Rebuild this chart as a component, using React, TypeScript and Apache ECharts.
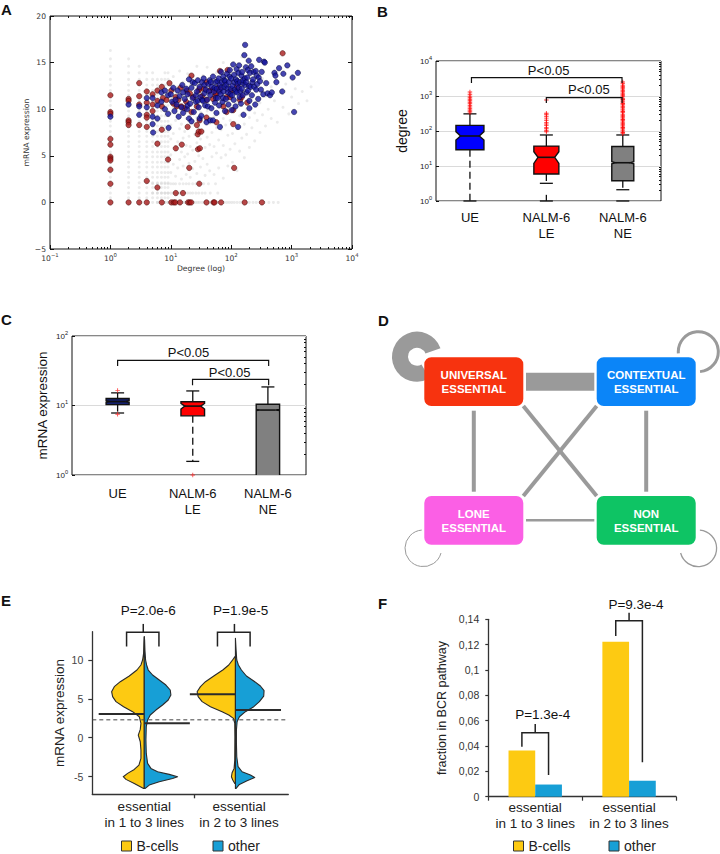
import React, { useEffect, useRef } from 'react';
import * as echarts from 'echarts';

const SANS = '"Liberation Sans", Arial, Helvetica, sans-serif';
const DEJAVU = '"DejaVu Sans", sans-serif';
const YELLOW = '#fdca12';
const CYAN = '#179fd6';

// ---------------- Panel A : degree vs mRNA expression ----------------
const aStripeDegrees = [1, 2, 3, 4, 5, 6, 7, 8, 9];
const aStripeTops = [16.3, 15.6, 14.7, 14.3, 14.0, 13.6, 13.5, 14.0, 14.0];
const aStripeLevels = [0, 0.5, 1, 1.6, 2.1, 2.7, 3.2, 3.8, 4.3, 4.9, 5.4, 6, 6.5, 7.1, 7.6, 8.2, 8.7, 9.3, 9.8, 10.4, 10.9, 11.5, 12, 12.6, 13.2, 13.9, 14.6, 15.4, 16.3];
const aGrayRows: [number, number[]][] = [
  [0, [6, 7, 8, 9, 10, 11, 12, 13, 14, 15, 16, 17, 18, 19, 20, 22, 24, 26, 28, 30, 33, 36, 40, 44, 48, 53, 58, 64, 70, 77, 85, 93, 102, 112, 125, 140, 160, 180, 200, 230, 260, 300, 350, 420, 500, 600]],
  [1.0, [5, 6, 7, 8, 9, 10, 11, 12, 13, 14, 15, 17, 19, 21, 23, 26, 29, 33, 37, 45, 60]],
  [2.0, [5, 6, 7, 8, 9, 10, 11, 12, 14, 16, 18, 20, 23, 26, 30, 35, 42, 55]],
];
const aGrayCloud: [number, number][] = [
  [10, 3.2], [10, 5.1], [10, 6.8], [10, 8.3], [10, 9.6], [10, 11.2], [10, 12.7], [11, 4.1], [11, 7.4], [11, 10.1], [11, 13.5],
  [12, 2.8], [12, 5.9], [12, 8.8], [12, 11.9], [13, 3.7], [13, 6.5], [13, 9.3], [13, 12.4], [14, 4.6], [14, 7.9], [14, 10.6], [14, 14.1],
  [15, 2.5], [15, 5.4], [15, 8.4], [15, 11.5], [16, 3.9], [16, 6.9], [16, 9.9], [16, 12.9], [17, 4.9], [17, 7.6], [17, 10.8],
  [18, 3.0], [18, 6.1], [18, 9.0], [18, 12.0], [19, 5.2], [19, 8.0], [19, 13.8], [20, 4.2], [20, 7.1], [20, 10.3],
  [21, 2.7], [21, 6.0], [21, 9.4], [21, 12.6], [23, 3.6], [23, 5.6], [23, 8.6], [23, 11.4], [25, 4.4], [25, 7.3], [25, 10.0], [25, 13.0],
  [27, 3.1], [27, 6.4], [27, 9.1], [27, 14.6], [29, 5.0], [29, 8.1], [29, 11.0], [31, 3.8], [31, 6.8], [31, 9.7], [31, 12.3],
  [34, 4.7], [34, 7.7], [34, 10.5], [34, 13.6], [37, 2.9], [37, 5.9], [37, 8.9], [37, 11.8], [40, 4.1], [40, 7.0], [40, 9.8], [40, 14.5],
  [44, 3.4], [44, 6.2], [44, 8.5], [44, 11.1], [44, 12.9], [48, 4.9], [48, 7.5], [48, 10.2], [52, 3.0], [52, 6.0], [52, 9.2], [52, 12.0],
  [57, 5.3], [57, 8.0], [57, 10.9], [57, 13.9], [62, 3.7], [62, 6.7], [62, 9.5], [62, 12.5], [68, 4.8], [68, 7.8], [68, 10.6],
  [74, 2.6], [74, 6.1], [74, 9.0], [74, 11.7], [74, 15.0], [81, 5.1], [81, 8.3], [81, 12.8], [88, 3.9], [88, 7.2], [88, 10.1],
  [96, 5.7], [96, 8.8], [96, 11.4], [96, 14.0], [105, 4.3], [105, 7.4], [105, 9.9], [115, 6.3], [115, 8.6], [115, 12.2],
  [125, 3.4], [125, 7.9], [125, 10.8], [138, 5.5], [138, 9.3], [138, 13.2], [150, 6.9], [150, 10.4], [150, 15.6],
  [165, 4.8], [165, 8.4], [165, 11.9], [180, 7.3], [180, 10.0], [200, 5.9], [200, 9.1], [200, 12.6], [220, 8.0], [220, 11.2], [220, 14.8],
  [245, 6.6], [245, 9.6], [270, 8.8], [270, 12.1], [300, 7.5], [300, 10.7], [330, 9.4], [330, 13.3], [370, 8.2], [370, 11.4],
  [410, 10.0], [460, 9.0], [460, 12.4], [520, 10.9], [580, 8.6], [650, 11.8], [720, 10.2], [800, 12.7], [900, 9.5], [1000, 11.3],
  [1150, 12.2], [1300, 10.6], [1500, 11.9], [1800, 10.9], [2100, 12.4],
];
const aRed: [number, number][] = [
  [1, 11.5], [1, 9.7], [1, 9.5], [1, 6.8], [1, 6.2], [1, 4.9], [1, 4.7], [1, 4.5], [1, 3.5], [1, 2.0], [1, 0],
  [2, 11.1], [2, 10.9], [2, 8.8], [2, 8.6], [2, 8.3], [2, 0],
  [3, 12.8], [3, 11.4], [3, 10.5], [3, 8.3], [3, 0],
  [4, 11.9], [4, 10.7], [4, 9.4], [4, 9.1], [4, 8.1], [4, 2.3], [4, 0],
  [5, 11.6], [5, 10.5], [5, 9.8], [6, 12.0], [6, 10.9], [6, 6.3], [6, 1.6],
  [7.1, 12.4], [7.1, 10.3], [7.1, 7.8], [7.1, 0], [7.4, 11.2], [8.5, 11.0], [9, 4.6], [9.5, 12.8],
  [10.2, 12.0], [10.2, 0], [11, 10.6], [11.2, 0], [11.9, 0], [12, 11.3], [12.1, 5.8], [12.1, 1.0], [12.5, 10.3], [13.3, 11.0],
  [14.2, 0], [14.5, 12.3], [15, 10.3], [15.2, 6.2], [15.9, 1.0], [17, 10.1], [18, 10.8], [18.3, 12.0], [19, 8.1], [19.3, 0],
  [20.2, 3.7], [20.5, 0], [20.7, 11.7], [21.8, 0], [22, 13.6], [22, 9.7], [23.6, 11.3], [27, 10.3], [27, 8.3], [27.9, 7.3],
  [28.2, 5.7], [29, 12.0], [29, 7.6], [29.6, 2.0], [30, 12.2], [30, 8.8], [30.3, 5.8], [32, 7.6], [33, 11.4], [35.5, 12.2],
  [39, 12.9], [39, 11.0], [39, 9.1], [39, 0], [44, 12.0], [50, 11.1], [50, 12.1], [51, 0], [53, 0], [55, 11.5], [56, 11.7],
  [57, 8.6], [61, 12.3], [65, 14.1], [65, 12.1], [68, 0], [74, 10.3], [84, 11.3], [84, 9.7], [87, 14.2], [96, 11.3], [98, 11.9],
  [108, 9.9], [108, 8.4], [112, 3.7], [125, 12.4], [140, 11.0], [150, 11.3], [167, 0], [184, 10.7], [323, 0], [710, 16.0],
];
const aBlue: [number, number][] = [
  [1, 9.2], [2, 10.5], [3, 9.4], [3, 10.3], [4, 10.2], [4, 11.2], [5, 11.2], [5, 9.2], [5, 8.4], [5.1, 7.5], [6, 9.0], [6, 10.4],
  [7, 11.8], [7, 10.8], [8, 10.0], [8, 12.0], [9, 11.5], [9, 9.5], [9.2, 8.0],
  [10, 11.6], [10.5, 10.8], [11, 12.3], [11.5, 9.8], [12, 11.0], [12.5, 10.5], [13, 12.0], [13.5, 9.2], [14, 11.4], [15, 10.2],
  [15.5, 12.6], [16, 9.6], [16, 11.8], [17, 11.1], [18, 12.2], [18.5, 10.0], [19, 11.6], [19, 10.4], [20, 13.2], [20, 9.0],
  [21, 10.6], [22, 12.3], [22, 8.7], [23, 11.2], [23, 12.9], [24, 9.7], [25, 12.8], [26, 10.8], [26, 11.5], [27, 11.9], [28, 13.1],
  [28, 10.9], [29, 10.2], [30, 12.4], [30, 9.0], [31, 11.3], [32, 9.3], [33, 12.9], [33, 11.0], [34, 10.9], [35, 13.3], [36, 11.7],
  [36, 12.6], [37, 10.4], [38, 12.1], [39, 8.6], [40, 11.0], [41, 10.3], [42, 12.7], [43, 11.9], [44, 13.1], [45, 11.5], [45, 8.8],
  [46, 12.9], [47, 10.1], [48, 12.4], [50, 13.5], [50, 8.8], [52, 11.9], [53, 12.3], [54, 10.7], [55, 12.9], [56, 11.2], [57, 9.6],
  [58, 12.2], [59, 13.0], [60, 11.2], [62, 13.3], [63, 10.4], [64, 11.9], [65, 12.6], [65, 8.1], [67, 11.6], [68, 14.0], [69, 12.3],
  [70, 12.9], [72, 10.8], [73, 11.2], [74, 13.5], [75, 11.9], [77, 13.1], [78, 12.4], [79, 9.8], [80, 13.0], [82, 11.1], [83, 12.6],
  [85, 13.8], [87, 12.2], [89, 11.8], [90, 10.5], [92, 12.9], [94, 13.5], [95, 14.2], [97, 11.6], [99, 12.2], [100, 13.3], [102, 9.9],
  [104, 11.5], [105, 12.5], [108, 14.8], [110, 11.0], [112, 13.7], [113, 12.9], [115, 12.1], [118, 10.3], [119, 11.9], [120, 13.2],
  [123, 14.3], [125, 11.8], [126, 13.0], [128, 12.7], [130, 8.1], [132, 13.9], [134, 12.3], [135, 14.7], [138, 11.3], [140, 12.9],
  [143, 11.9], [145, 10.6], [148, 13.6], [150, 12.2], [152, 14.0], [155, 11.5], [157, 12.8], [158, 13.1], [160, 9.4], [165, 15.8],
  [168, 13.3], [170, 16.9], [172, 12.6], [175, 14.5], [178, 12.9], [180, 11.8], [185, 13.4], [188, 14.2], [190, 12.0], [195, 15.2],
  [198, 12.5], [200, 10.9], [200, 10.1], [205, 13.9], [210, 12.4], [215, 14.6], [220, 11.5], [225, 12.9], [230, 13.2], [235, 14.0],
  [240, 12.4], [250, 10.5], [255, 14.1], [260, 12.1], [265, 13.6], [270, 12.7], [280, 11.1], [285, 13.4], [290, 15.3], [300, 13.0],
  [310, 12.1], [320, 14.0], [340, 11.6], [350, 15.1], [360, 15.0], [380, 12.8], [400, 11.7], [440, 11.5], [470, 11.8], [520, 13.9],
  [540, 13.6], [560, 12.9], [620, 14.4], [700, 11.9], [730, 13.8], [850, 14.7], [1040, 13.4], [1100, 9.7], [1270, 13.9],
];
const aMinorTicks = [0.2, 0.3, 0.4, 0.5, 0.6, 0.7, 0.8, 0.9, 2, 3, 4, 5, 6, 7, 8, 9, 20, 30, 40, 50, 60, 70, 80, 90,
  200, 300, 400, 500, 600, 700, 800, 900, 2000, 3000, 4000, 5000, 6000, 7000, 8000, 9000];

// ---------------- Panel B : degree boxplots ----------------
const bCategories = ['UE', 'NALM-6\nLE', 'NALM-6\nNE'];
const bLow = [1, 3.2, 2.1];
const bQ1 = [29, 5.9, 3.8];
const bMedian = [72, 17.7, 12.4];
const bQ3 = [145, 37, 36];
const bHigh = [309, 77, 77];
const bNotchLow = [55, 11.9, 11.6];
const bNotchHigh = [96, 25.5, 13.3];
const bFloorTail: (number | null)[] = [null, 1.5, 1];
const bOutliers: number[][] = [
  [330, 365, 400, 445, 490, 540, 600, 660, 730, 810, 890, 990, 1120, 1300],
  [95, 104, 116, 127, 142, 158, 176, 198, 222, 255, 290, 320, 770],
  [84, 91, 99, 107, 117, 126, 139, 151, 166, 180, 198, 214, 236, 255, 281, 303, 335, 362, 398, 430, 474, 512, 563, 608, 668, 722,
    795, 858, 945, 1020, 1125, 1215, 1335, 1445, 1590, 1720, 1895, 2050, 2260, 2500],
];
const bMinorTicks = [2, 3, 4, 5, 6, 7, 8, 9, 20, 30, 40, 50, 60, 70, 80, 90, 200, 300, 400, 500, 600, 700, 800, 900,
  2000, 3000, 4000, 5000, 6000, 7000, 8000, 9000];
const bBrackets = [
  { x1: 1.02, x2: 2.99, y: 3334, leg: 2352, text: 'P<0.05', tx: 2.03, ty: 5280 },
  { x1: 2.0, x2: 2.99, y: 894, leg: 631, text: 'P<0.05', tx: 2.556, ty: 1484 },
];

// ---------------- Panel C : mRNA expression boxplots ----------------
const cCategories = ['UE', 'NALM-6\nLE', 'NALM-6\nNE'];
const cLow = [7.8, 1.57, 0.3];
const cQ1 = [10.3, 7.1, 0.5];
const cMedian = [11.4, 9.8, 8.6];
const cQ3 = [12.6, 11.3, 10.4];
const cHigh = [15.2, 16.2, 18.5];
const cNotchLow = [11.1, 8.9, 8.45];
const cNotchHigh = [11.7, 10.7, 8.75];
const cFloorTail: (number | null)[] = [null, null, null];
const cOutliers: number[][] = [[16.5, 7.5], [1.0], []];
const cMinorTicks = [2, 3, 4, 5, 6, 7, 8, 9, 20, 30, 40, 50, 60, 70, 80, 90];
const cBrackets = [
  { x1: 1.0, x2: 3.01, y: 44.7, leg: 37, text: 'P<0.05', tx: 1.944, ty: 57.6 },
  { x1: 1.997, x2: 3.01, y: 23.8, leg: 19.6, text: 'P<0.05', tx: 2.49, ty: 30.3 },
];

// ---------------- Panel D : network ----------------
const dNodes = [
  { id: 'UE', label: 'UNIVERSAL\nESSENTIAL', color: '#f7330f' },
  { id: 'CE', label: 'CONTEXTUAL\nESSENTIAL', color: '#0b85f8' },
  { id: 'LE', label: 'LONE\nESSENTIAL', color: '#fb5fe5' },
  { id: 'NE', label: 'NON\nESSENTIAL', color: '#0ec464' },
];
const dEdges: [string, string, number][] = [
  ['UE', 'CE', 18], ['UE', 'LE', 4], ['CE', 'NE', 4], ['UE', 'NE', 4], ['CE', 'LE', 4], ['LE', 'NE', 2.5],
];
const dSelfLoops: [string, number][] = [['UE', 16], ['CE', 3], ['LE', 1], ['NE', 1.3]];

// ---------------- Panel E : violins ----------------
const eCategories = ['essential\nin 1 to 3 lines', 'essential\nin 2 to 3 lines'];
const eBcellsProfiles: [number, number][][] = [
  [[-6.52, 0.02], [-5.88, 0.30], [-5.36, 0.55], [-5.02, 0.63], [-4.59, 0.50], [-4.08, 0.30], [-3.52, 0.16], [-2.66, 0.10],
    [-1.59, 0.10], [-0.52, 0.12], [0.34, 0.18], [1.07, 0.12], [1.85, 0.10], [2.70, 0.15], [3.35, 0.35], [3.99, 0.62],
    [4.64, 0.85], [5.28, 0.95], [5.92, 0.98], [6.57, 0.90], [7.21, 0.72], [7.94, 0.45], [8.71, 0.22], [9.36, 0.10],
    [10.0, 0.05], [10.86, 0.02], [12.15, 0.01], [13.0, 0.0]],
  [[-5.88, 0.02], [-5.45, 0.08], [-5.02, 0.12], [-4.51, 0.10], [-3.95, 0.04], [-2.88, 0.02], [0.13, 0.015], [1.85, 0.02],
    [2.49, 0.06], [2.92, 0.20], [3.35, 0.40], [3.99, 0.75], [4.64, 1.00], [5.28, 1.12], [5.92, 1.15], [6.57, 1.05],
    [7.21, 0.90], [7.94, 0.65], [8.71, 0.38], [9.36, 0.20], [9.91, 0.10], [10.34, 0.03], [10.5, 0.0]],
];
const eOtherProfiles: [number, number][][] = [
  [[-6.52, 0.03], [-6.09, 0.15], [-5.67, 0.45], [-5.24, 0.85], [-5.02, 1.00], [-4.72, 0.75], [-4.38, 0.40], [-3.95, 0.20],
    [-3.30, 0.10], [-2.02, 0.06], [-0.30, 0.05], [1.42, 0.06], [2.27, 0.10], [2.92, 0.18], [3.56, 0.35], [4.21, 0.55],
    [4.85, 0.72], [5.49, 0.80], [6.14, 0.78], [6.78, 0.65], [7.42, 0.45], [8.07, 0.25], [8.71, 0.12], [9.36, 0.07],
    [10.0, 0.04], [11.29, 0.02], [12.58, 0.01], [13.0, 0.0]],
  [[-6.52, 0.02], [-6.01, 0.12], [-5.54, 0.35], [-5.11, 0.58], [-4.81, 0.45], [-4.38, 0.20], [-3.73, 0.08], [-2.45, 0.04],
    [-0.73, 0.03], [0.99, 0.03], [2.06, 0.05], [2.70, 0.12], [3.35, 0.30], [3.99, 0.55], [4.64, 0.72], [5.36, 0.85],
    [6.05, 0.86], [6.65, 0.75], [7.30, 0.55], [7.94, 0.33], [8.71, 0.18], [9.36, 0.09], [10.0, 0.04], [11.29, 0.02], [12.79, 0.0]],
];
const eMedBcells = [3.05, 5.6];
const eMedOther = [1.85, 3.55];
const eThreshold = 2.3;
const eTicks = [-5, 0, 5, 10];
const eBrackets = [
  { pos: 1, left: -0.194, right: 0.161, stemX: -0.011, top: 13.56, legs: 11.72, stem: 14.64, text: 'P=2.0e-6', tdx: 0.044, ty: 16.35 },
  { pos: 2, left: -0.197, right: 0.161, stemX: -0.011, top: 13.56, legs: 11.72, stem: 14.64, text: 'P=1.9e-5', tdx: 0.057, ty: 16.35 },
];

// ---------------- Panel F : bars ----------------
const fCategories = ['essential\nin 1 to 3 lines', 'essential\nin 2 to 3 lines'];
const fBcells = [0.0365, 0.1222];
const fOther = [0.0096, 0.0126];
const fBrackets = [
  { cat: 0, left: 0.0395, right: 0.0171, top: 0.0505, stem: 0.0574, text: 'P=1.3e-4', tdx: 0.08, ty: 0.065 },
  { cat: 1, left: 0.1268, right: 0.0271, top: 0.1389, stem: 0.1452, text: 'P=9.3e-4', tdx: 0.074, ty: 0.1518 },
];

// ---------------- helpers ----------------
const PLUS = 'path://M4,0H6V4H10V6H6V10H4V6H0V4H4Z';
const VIOLIN_PX = 33.3;

function supLabel(v: number) {
  const e = Math.round(Math.log10(v));
  return `{b|10}{s|${e < 0 ? '\u2212' + -e : e}}`;
}

function boxRender(low: number[], q1: number[], med: number[], q3: number[], high: number[], nLo: number[], nHi: number[],
  halfW: number[], fills: string[], floor: (number | null)[]) {
  return (params: any, api: any) => {
    const i = params.dataIndex;
    const pos = i + 1;
    const X = api.coord([pos, med[i]])[0];
    const Y = (v: number) => api.coord([pos, v])[1];
    const hw = halfW[i];
    const ind = hw * 0.33;
    const cap = 6.5;
    const stroke = '#111';
    const ls = { stroke, lineWidth: 1.3 };
    const ch: any[] = [];
    ch.push({ type: 'line', shape: { x1: X, y1: Y(q3[i]), x2: X, y2: Y(high[i]) }, style: ls });
    ch.push({ type: 'line', shape: { x1: X - cap, y1: Y(high[i]), x2: X + cap, y2: Y(high[i]) }, style: ls });
    ch.push({ type: 'line', shape: { x1: X, y1: Y(q1[i]), x2: X, y2: Y(low[i]) }, style: { ...ls, lineDash: [7, 4] } });
    ch.push({ type: 'line', shape: { x1: X - cap, y1: Y(low[i]), x2: X + cap, y2: Y(low[i]) }, style: ls });
    const f = floor[i];
    if (f != null) {
      ch.push({ type: 'line', shape: { x1: X, y1: Y(f), x2: X, y2: Y(1) }, style: ls });
      ch.push({ type: 'line', shape: { x1: X - cap, y1: Y(1), x2: X + cap, y2: Y(1) }, style: ls });
    }
    const pts = [
      [X - hw, Y(q3[i])], [X + hw, Y(q3[i])], [X + hw, Y(nHi[i])], [X + hw - ind, Y(med[i])], [X + hw, Y(nLo[i])],
      [X + hw, Y(q1[i])], [X - hw, Y(q1[i])], [X - hw, Y(nLo[i])], [X - hw + ind, Y(med[i])], [X - hw, Y(nHi[i])],
    ];
    ch.push({ type: 'polygon', shape: { points: pts }, style: { fill: fills[i], stroke, lineWidth: 1.4 } });
    ch.push({ type: 'line', shape: { x1: X - hw + ind, y1: Y(med[i]), x2: X + hw - ind, y2: Y(med[i]) }, style: { stroke, lineWidth: 1.6 } });
    return { type: 'group', children: ch };
  };
}

function textStyle(text: string, size: number, color = '#111', weight = 'normal') {
  return {
    text, fill: color, fontSize: size, fontFamily: SANS, fontWeight: weight,
    align: 'center', verticalAlign: 'middle', textAlign: 'center', textVerticalAlign: 'middle',
  };
}

function valueBracketRender(spec: any[]) {
  return (params: any, api: any) => {
    const b = spec[params.dataIndex];
    const [x1, y] = api.coord([b.x1, b.y]);
    const x2 = api.coord([b.x2, b.y])[0];
    const yl = api.coord([b.x1, b.leg])[1];
    const [tx, ty] = api.coord([b.tx, b.ty]);
    return {
      type: 'group', children: [
        { type: 'polyline', shape: { points: [[x1, yl], [x1, y], [x2, y], [x2, yl]] }, style: { stroke: '#111', lineWidth: 1.2, fill: null } },
        { type: 'text', x: tx, y: ty, style: textStyle(b.text, 13) },
      ],
    };
  };
}

function violinRender(profiles: [number, number][][], medians: number[], side: number, fill: string) {
  return (params: any, api: any) => {
    const i = params.dataIndex;
    const pos = i + 1;
    const prof = profiles[i];
    const cx = api.coord([pos, 0])[0];
    const pts: number[][] = [[cx, api.coord([pos, prof[0][0]])[1]]];
    for (const [v, d] of prof) pts.push([cx + side * d * VIOLIN_PX, api.coord([pos, v])[1]]);
    pts.push([cx, api.coord([pos, prof[prof.length - 1][0]])[1]]);
    const my = api.coord([pos, medians[i]])[1];
    const mx = api.coord([pos + side * 0.5, medians[i]])[0];
    return {
      type: 'group', children: [
        { type: 'polygon', shape: { points: pts }, style: { fill, stroke: '#2a2a2a', lineWidth: 1.1, lineJoin: 'round' } },
        { type: 'line', shape: { x1: cx, y1: my, x2: mx, y2: my }, style: { stroke: '#2b2b2b', lineWidth: 2 } },
      ],
    };
  };
}

function stemBracketRender(spec: any[]) {
  return (params: any, api: any) => {
    const b = spec[params.dataIndex];
    const xl = api.coord([b.pos + b.left, b.top])[0];
    const xr = api.coord([b.pos + b.right, b.top])[0];
    const xs = api.coord([b.pos + b.stemX, b.top])[0];
    const yt = api.coord([b.pos, b.top])[1];
    const yl = api.coord([b.pos, b.legs])[1];
    const ys = api.coord([b.pos, b.stem])[1];
    const [tx, ty] = api.coord([b.pos + b.tdx, b.ty]);
    const st = { stroke: '#222', lineWidth: 1.5, fill: null };
    return {
      type: 'group', children: [
        { type: 'polyline', shape: { points: [[xl, yl], [xl, yt], [xr, yt], [xr, yl]] }, style: st },
        { type: 'line', shape: { x1: xs, y1: yt, x2: xs, y2: ys }, style: st },
        { type: 'text', x: tx, y: ty, style: textStyle(b.text, 13.5, '#111') },
      ],
    };
  };
}

function barBracketRender(spec: any[]) {
  return (params: any, api: any) => {
    const b = spec[params.dataIndex];
    const band = api.size([1, 0])[0];
    const c = api.coord([b.cat, b.top]);
    const xl = c[0] - band * 0.142;
    const xr = c[0] + band * 0.142;
    const yl = api.coord([b.cat, b.left])[1];
    const yr = api.coord([b.cat, b.right])[1];
    const ys = api.coord([b.cat, b.stem])[1];
    const ty = api.coord([b.cat, b.ty])[1];
    const st = { stroke: '#222', lineWidth: 1.5, fill: null };
    return {
      type: 'group', children: [
        { type: 'polyline', shape: { points: [[xl, yl], [xl, c[1]], [xr, c[1]], [xr, yr]] }, style: st },
        { type: 'line', shape: { x1: c[0], y1: c[1], x2: c[0], y2: ys }, style: st },
        { type: 'text', x: c[0] + band * b.tdx, y: ty, style: textStyle(b.text, 13.5, '#111') },
      ],
    };
  };
}

// ---------------- Panel D layout ----------------
const D_W = 99;
const D_H = 48.7;
const D_POS: Record<string, [number, number]> = {
  UE: [424.3, 357.3], CE: [596.7, 357.3], LE: [424.3, 496], NE: [596.7, 496],
};
const D_LOOPS: Record<string, { cx: number; cy: number; r: number; a0: number; a1: number }> = {
  UE: { cx: 417, cy: 356.7, r: 17, a0: 60, a1: 340 },
  CE: { cx: 698.3, cy: 351.7, r: 20, a0: 175, a1: 445 },
  LE: { cx: 423.3, cy: 548.3, r: 18.3, a0: 15, a1: 265 },
  NE: { cx: 698.3, cy: 548.3, r: 18.3, a0: -85, a1: 165 },
};
const D_EDGE = '#9a9a9a';

function edgeEnds(a: string, b: string) {
  const [ax, ay] = D_POS[a];
  const [bx, by] = D_POS[b];
  if (ay === by) {
    const l = ax < bx ? ax : bx;
    return [l + D_W + 2.7, ay + D_H / 2, (ax < bx ? bx : ax) - 2.4, ay + D_H / 2];
  }
  if (ax === bx) {
    const t = ay < by ? ay : by;
    return [ax + D_W / 2, t + D_H + 4.7, ax + D_W / 2, (ay < by ? by : ay) - 4.3];
  }
  const [tx, ty, ox, oy] = ay < by ? [ax, ay, bx, by] : [bx, by, ax, ay];
  const x1 = tx < ox ? tx + D_W : tx;
  const x2 = tx < ox ? ox : ox + D_W;
  return [x1, ty + D_H, x2, oy];
}

function buildGraphic() {
  const els: any[] = [];
  for (const [a, b, w] of dEdges) {
    const [x1, y1, x2, y2] = edgeEnds(a, b);
    els.push({ type: 'line', shape: { x1, y1, x2, y2 }, style: { stroke: D_EDGE, lineWidth: w, lineCap: 'butt' }, silent: true });
  }
  for (const [n, w] of dSelfLoops) {
    const L = D_LOOPS[n];
    els.push({
      type: 'arc',
      shape: { cx: L.cx, cy: L.cy, r: L.r, startAngle: (L.a0 * Math.PI) / 180, endAngle: (L.a1 * Math.PI) / 180, clockwise: true },
      style: { stroke: D_EDGE, lineWidth: w, fill: null, lineCap: 'butt' }, silent: true,
    });
  }
  for (const n of dNodes) {
    const [x, y] = D_POS[n.id];
    els.push({ type: 'rect', shape: { x, y, width: D_W, height: D_H, r: 7 }, style: { fill: n.color }, silent: true });
    els.push({
      type: 'text', x: x + D_W / 2, y: y + D_H / 2 + 0.5, silent: true,
      style: { ...textStyle(n.label, 11.5, '#ffffff', 'bold'), lineHeight: 13.6 },
    });
  }
  const letters: [string, number, number][] = [['A', 1, 9], ['B', 377, 11], ['C', 1, 319], ['D', 378, 320], ['E', 1, 600], ['F', 378, 603]];
  for (const [t, x, y] of letters) {
    els.push({
      type: 'text', x, y, silent: true,
      style: { text: t, fill: '#111', fontSize: 15, fontWeight: 'bold', fontFamily: SANS, align: 'left', verticalAlign: 'middle', textAlign: 'left', textVerticalAlign: 'middle' },
    });
  }
  return els;
}

function buildOption(): any {
  const aGray: number[][] = [
    ...aStripeDegrees.flatMap((d, i) => aStripeLevels.filter((v) => v <= aStripeTops[i]).map((v) => [d, v])),
    ...aGrayRows.flatMap(([y, ds]) => ds.map((d) => [d, y])),
    ...aGrayCloud,
  ];
  const aTick = { inside: true, length: 4, lineStyle: { color: '#111', width: 1 } };
  const aMinor = { inside: true, length: 2, lineStyle: { color: '#111', width: 1 }, customValues: aMinorTicks };
  const supRich = (size: number, font: string, color: string) => ({
    b: { fontSize: size, fontFamily: font, color, lineHeight: size + 5 },
    s: { fontSize: size * 0.7, fontFamily: font, color, lineHeight: size * 0.75, verticalAlign: 'top' },
  });
  const catLabel = (cats: string[]) => (v: number) => cats[Math.round(v) - 1] ?? '';
  const noLine = { show: false, onZero: false };

  return {
    animation: false,
    backgroundColor: '#ffffff',
    textStyle: { fontFamily: SANS },
    graphic: { elements: buildGraphic() },
    legend: [
      {
        left: 121, top: 839, padding: 0, itemWidth: 10, itemHeight: 10, itemGap: 34, icon: 'rect', selectedMode: false,
        data: ['B-cells', 'other'], textStyle: { fontSize: 14, fontFamily: SANS, color: '#222' },
        itemStyle: { borderColor: '#333', borderWidth: 1 },
      },
      {
        left: 513, top: 839, padding: 0, itemWidth: 10, itemHeight: 10, itemGap: 38, icon: 'rect', selectedMode: false,
        data: ['B-cells', 'other'], textStyle: { fontSize: 14, fontFamily: SANS, color: '#222' },
        itemStyle: { borderColor: '#333', borderWidth: 1 },
      },
    ],
    grid: [
      { left: 50, top: 16, width: 302, height: 233, show: true, borderColor: '#111', borderWidth: 1, backgroundColor: 'transparent' },
      { left: 436, top: 61, width: 225, height: 140, show: true, borderColor: '#111', borderWidth: 1, backgroundColor: 'transparent' },
      { left: 72, top: 336, width: 234, height: 139, show: true, borderColor: '#111', borderWidth: 1, backgroundColor: 'transparent' },
      { left: 92.3, top: 631.7, width: 196, height: 162.6 },
      { left: 488.3, top: 619.3, width: 187.7, height: 177.4 },
    ],
    xAxis: [
      {
        type: 'log', logBase: 10, gridIndex: 0, position: 'bottom', min: 0.1, max: 10000,
        axisLine: noLine, axisTick: aTick, splitLine: { show: false },
        axisLabel: { margin: 3, formatter: supLabel, rich: supRich(7.6, DEJAVU, '#333') },
        name: 'Degree (log)', nameLocation: 'middle', nameGap: 15,
        nameTextStyle: { fontSize: 7.7, fontFamily: DEJAVU, color: '#333' },
      },
      {
        type: 'log', logBase: 10, gridIndex: 0, position: 'top', min: 0.1, max: 10000,
        axisLine: noLine, axisTick: aTick, axisLabel: { show: false }, splitLine: { show: false },
      },
      {
        type: 'log', logBase: 10, gridIndex: 0, position: 'bottom', min: 0.1, max: 10000,
        axisLine: noLine, axisTick: aMinor, axisLabel: { show: false }, splitLine: { show: false },
      },
      {
        type: 'log', logBase: 10, gridIndex: 0, position: 'top', min: 0.1, max: 10000,
        axisLine: noLine, axisTick: aMinor, axisLabel: { show: false }, splitLine: { show: false },
      },
      {
        type: 'value', gridIndex: 1, min: 0.556, max: 3.5,
        axisLine: noLine, axisTick: { show: false }, splitLine: { show: false },
        axisLabel: { customValues: [1, 2, 3], formatter: catLabel(bCategories), fontSize: 13, lineHeight: 15.5, margin: 9, color: '#111', fontFamily: SANS },
      },
      {
        type: 'value', gridIndex: 2, min: 0.393, max: 3.507,
        axisLine: noLine, axisTick: { show: false }, splitLine: { show: false },
        axisLabel: { customValues: [1, 2, 3], formatter: catLabel(cCategories), fontSize: 13, lineHeight: 16.3, margin: 10.5, color: '#111', fontFamily: SANS },
      },
      {
        type: 'value', gridIndex: 3, min: 0.43, max: 2.58,
        axisLine: { show: true, onZero: false, lineStyle: { color: '#333', width: 1.3 } },
        axisTick: { show: true, length: 4, customValues: [1.55], lineStyle: { color: '#333', width: 1.3 } },
        splitLine: { show: false },
        axisLabel: { customValues: [1, 2.04], formatter: catLabel(eCategories), fontSize: 13.5, lineHeight: 16.7, margin: 3.5, color: '#222', fontFamily: SANS },
      },
      {
        type: 'category', gridIndex: 4, data: fCategories,
        axisLine: { show: true, onZero: false, lineStyle: { color: '#333', width: 1.3 } },
        axisTick: { show: true, alignWithLabel: false, length: 4, lineStyle: { color: '#333', width: 1.2 } },
        axisLabel: { interval: 0, fontSize: 13.5, lineHeight: 16, margin: 3, color: '#222', fontFamily: SANS },
      },
    ],
    yAxis: [
      {
        type: 'value', gridIndex: 0, position: 'left', min: -5, max: 20, interval: 5,
        axisLine: noLine, axisTick: aTick, splitLine: { show: false },
        axisLabel: { margin: 4, fontSize: 7.6, fontFamily: DEJAVU, color: '#333', formatter: (v: number) => (v < 0 ? '\u2212' + -v : String(v)) },
        name: 'mRNA expression', nameLocation: 'middle', nameGap: 16,
        nameTextStyle: { fontSize: 7.7, fontFamily: DEJAVU, color: '#333' },
      },
      {
        type: 'value', gridIndex: 0, position: 'right', min: -5, max: 20, interval: 5,
        axisLine: noLine, axisTick: aTick, axisLabel: { show: false }, splitLine: { show: false },
      },
      {
        type: 'log', logBase: 10, gridIndex: 1, position: 'left', min: 1, max: 10000,
        axisLine: noLine, axisTick: { inside: true, length: 3, lineStyle: { color: '#111' } },
        splitLine: { show: true, lineStyle: { color: '#dadada', width: 1 } },
        axisLabel: { margin: 4, formatter: supLabel, rich: supRich(8, SANS, '#222') },
        name: 'degree', nameLocation: 'middle', nameGap: 27,
        nameTextStyle: { fontSize: 14, fontFamily: SANS, color: '#111' },
      },
      {
        type: 'log', logBase: 10, gridIndex: 1, position: 'right', min: 1, max: 10000,
        axisLine: noLine, axisTick: { inside: true, length: 2, customValues: bMinorTicks, lineStyle: { color: '#111' } },
        axisLabel: { show: false }, splitLine: { show: false },
      },
      {
        type: 'log', logBase: 10, gridIndex: 2, position: 'left', min: 1, max: 100,
        axisLine: noLine, axisTick: { inside: true, length: 3, lineStyle: { color: '#111' } },
        splitLine: { show: true, lineStyle: { color: '#dadada', width: 1 } },
        axisLabel: { margin: 4, formatter: supLabel, rich: supRich(8, SANS, '#222') },
        name: 'mRNA expression', nameLocation: 'middle', nameGap: 22.5,
        nameTextStyle: { fontSize: 13.5, fontFamily: SANS, color: '#111' },
      },
      {
        type: 'log', logBase: 10, gridIndex: 2, position: 'right', min: 1, max: 100,
        axisLine: noLine, axisTick: { inside: true, length: 2, customValues: cMinorTicks, lineStyle: { color: '#111' } },
        axisLabel: { show: false }, splitLine: { show: false },
      },
      {
        type: 'value', gridIndex: 3, min: -7.28, max: 13.64,
        axisLine: { show: true, onZero: false, lineStyle: { color: '#333', width: 1.3 } },
        axisTick: { show: true, length: 4, customValues: eTicks, lineStyle: { color: '#333', width: 1.2 } },
        splitLine: { show: false },
        axisLabel: { customValues: eTicks, margin: 9, fontSize: 10.5, color: '#444', fontFamily: SANS },
        name: 'mRNA expression', nameLocation: 'middle', nameGap: 26,
        nameTextStyle: { fontSize: 13.5, fontFamily: SANS, color: '#222' },
      },
      {
        type: 'value', gridIndex: 4, min: 0, max: 0.14, interval: 0.02,
        axisLine: { show: true, onZero: false, lineStyle: { color: '#333', width: 1.3 } },
        axisTick: { show: true, length: 3, lineStyle: { color: '#333', width: 1.2 } },
        splitLine: { show: false },
        axisLabel: { margin: 9, fontSize: 10.5, color: '#333', fontFamily: SANS, formatter: (v: number) => String(parseFloat(v.toFixed(2))).replace('.', ',') },
        name: 'fraction in BCR pathway', nameLocation: 'middle', nameGap: 40,
        nameTextStyle: { fontSize: 12.5, fontFamily: SANS, color: '#222' },
      },
    ],
    series: [
      // Panel A
      { type: 'scatter', xAxisIndex: 0, yAxisIndex: 0, data: aGray, symbolSize: 3, silent: true, itemStyle: { color: 'rgba(200,200,200,0.45)' } },
      { type: 'scatter', xAxisIndex: 0, yAxisIndex: 0, data: aRed, symbolSize: 5.4, silent: true, itemStyle: { color: '#a81c1c', borderColor: '#3a0000', borderWidth: 0.6 } },
      { type: 'scatter', xAxisIndex: 0, yAxisIndex: 0, data: aBlue, symbolSize: 5.4, silent: true, itemStyle: { color: '#17179e', borderColor: '#000033', borderWidth: 0.6 } },
      // Panel B
      {
        type: 'custom', xAxisIndex: 4, yAxisIndex: 2, silent: true, z: 3,
        renderItem: boxRender(bLow, bQ1, bMedian, bQ3, bHigh, bNotchLow, bNotchHigh, [14, 12.5, 11], ['#0000ff', '#ff0000', '#808080'], bFloorTail),
        data: bCategories.map((_, i) => [i + 1, bMedian[i]]), encode: { x: 0, y: 1 },
      },
      {
        type: 'scatter', xAxisIndex: 4, yAxisIndex: 2, silent: true, z: 4, symbol: PLUS, symbolSize: 4.5,
        itemStyle: { color: '#ff0000' }, data: bOutliers.flatMap((vals, i) => vals.map((v) => [i + 1, v])),
      },
      {
        type: 'custom', xAxisIndex: 4, yAxisIndex: 2, silent: true, z: 5, renderItem: valueBracketRender(bBrackets),
        data: bBrackets.map((b) => [b.x1, b.y]), encode: { x: 0, y: 1 },
      },
      // Panel C
      {
        type: 'custom', xAxisIndex: 5, yAxisIndex: 4, silent: true, z: 3, clip: true,
        renderItem: boxRender(cLow, cQ1, cMedian, cQ3, cHigh, cNotchLow, cNotchHigh, [11.5, 11.8, 11.7], ['#14206e', '#ff0000', '#808080'], cFloorTail),
        data: cCategories.map((_, i) => [i + 1, cMedian[i]]), encode: { x: 0, y: 1 },
      },
      {
        type: 'scatter', xAxisIndex: 5, yAxisIndex: 4, silent: true, z: 4, symbol: PLUS, symbolSize: 4.5,
        itemStyle: { color: '#ff2020' }, data: cOutliers.flatMap((vals, i) => vals.map((v) => [i + 1, v])),
      },
      {
        type: 'custom', xAxisIndex: 5, yAxisIndex: 4, silent: true, z: 5, renderItem: valueBracketRender(cBrackets),
        data: cBrackets.map((b) => [b.x1, b.y]), encode: { x: 0, y: 1 },
      },
      // Panel E
      {
        type: 'custom', name: 'B-cells', xAxisIndex: 6, yAxisIndex: 6, silent: true, z: 3,
        itemStyle: { color: YELLOW }, renderItem: violinRender(eBcellsProfiles, eMedBcells, -1, YELLOW),
        data: eCategories.map((_, i) => [i + 1, 0]), encode: { x: 0, y: 1 },
      },
      {
        type: 'custom', name: 'other', xAxisIndex: 6, yAxisIndex: 6, silent: true, z: 3,
        itemStyle: { color: CYAN }, renderItem: violinRender(eOtherProfiles, eMedOther, 1, CYAN),
        data: eCategories.map((_, i) => [i + 1, 0]), encode: { x: 0, y: 1 },
      },
      {
        type: 'line', xAxisIndex: 6, yAxisIndex: 6, silent: true, z: 4, symbol: 'none',
        data: [[0.43, eThreshold], [2.56, eThreshold]], lineStyle: { color: '#444', width: 1, type: [4, 3] },
      },
      {
        type: 'custom', xAxisIndex: 6, yAxisIndex: 6, silent: true, z: 5, renderItem: stemBracketRender(eBrackets),
        data: eBrackets.map((b) => [b.pos, b.top]), encode: { x: 0, y: 1 },
      },
      // Panel F
      {
        type: 'bar', name: 'B-cells', xAxisIndex: 7, yAxisIndex: 7, silent: true, data: fBcells,
        barWidth: 26.7, barGap: '0%', itemStyle: { color: YELLOW },
      },
      {
        type: 'bar', name: 'other', xAxisIndex: 7, yAxisIndex: 7, silent: true, data: fOther,
        barWidth: 26.7, barGap: '0%', itemStyle: { color: CYAN },
      },
      {
        type: 'custom', xAxisIndex: 7, yAxisIndex: 7, silent: true, z: 5, renderItem: barBracketRender(fBrackets),
        data: fBrackets.map((b) => [b.cat, b.top]), encode: { x: 0, y: 1 },
      },
    ],
  };
}

export default function App() {
  const ref = useRef<HTMLDivElement>(null);
  useEffect(() => {
    if (!ref.current) return;
    const chart = echarts.init(ref.current, null, { renderer: 'svg' });
    chart.setOption(buildOption());
    return () => chart.dispose();
  }, []);
  return <div ref={ref} style={{ position: 'fixed', left: 0, top: 0, width: 720, height: 854, background: '#fff' }} />;
}
